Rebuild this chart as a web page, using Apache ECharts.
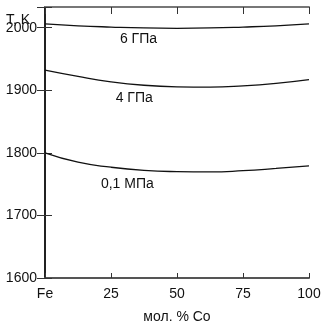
<!DOCTYPE html>
<html><head><meta charset="utf-8">
<script src="https://cdn.jsdelivr.net/npm/echarts@6/dist/echarts.min.js"></script>
<style>html,body{margin:0;padding:0;background:#fff}#c{width:324px;height:329px}</style>
</head><body><div id="c"></div>
<script>
const xTicks = [0, 25, 50, 75, 100];
const xTickLabels = ['Fe', '25', '50', '75', '100'];
const yTicks = [1600, 1700, 1800, 1900, 2000];
const curve6GPa = [[0,2006],[12.5,2003],[25,2001],[37.5,1999.5],[50,1999],[62.5,1999.5],[75,2001],[87.5,2003],[100,2006]];
const curve4GPa = [[0,1932],[12.5,1922],[25,1913.5],[37.5,1908],[50,1905.5],[62.5,1905],[75,1907],[87.5,1911],[100,1917]];
const curve01MPa = [[0,1800],[12.5,1785],[25,1777],[37.5,1772],[50,1770],[62.5,1769.5],[75,1771.5],[87.5,1775],[100,1779]];
const seriesNames = ['6 ГПа', '4 ГПа', '0,1 МПа'];
const labelPos = [[35.4,1981],[33.8,1887.5],[31.2,1750]];

const chart = echarts.init(document.getElementById('c'));
const font = 'Liberation Sans, Arial, sans-serif';
const axisCol = '#555';
const txt = '#111';
const common = {min:0,max:100,interval:25};
function mk(data, i){
  return {type:'line', data:data, smooth:0.5, symbol:'none',
    lineStyle:{color:'#111', width:1.3},
    markPoint:{symbol:'circle', symbolSize:0, data:[{coord:labelPos[i]}],
      label:{show:true, formatter:seriesNames[i], color:txt, fontSize:14, fontFamily:font}}};
}
chart.setOption({
  animation:false,
  grid:{left:45,right:15,top:7,bottom:44},
  xAxis:[
    Object.assign({type:'value', position:'bottom',
      axisLine:{lineStyle:{color:axisCol,width:2}},
      axisTick:{inside:true,length:5,lineStyle:{color:'#333'}},
      splitLine:{show:false},
      axisLabel:{margin:9,color:txt,fontSize:14,fontFamily:font,
        formatter:v=>{const k=xTicks.indexOf(v);return k>=0?xTickLabels[k]:'';}},
      name:'мол. % Co', nameLocation:'middle', nameGap:32,
      nameTextStyle:{color:txt,fontSize:14,fontFamily:font}}, common),
    Object.assign({type:'value', position:'top',
      axisLine:{lineStyle:{color:'#777',width:2}},
      axisTick:{inside:true,length:7,lineStyle:{color:'#333'}},
      splitLine:{show:false}, axisLabel:{show:false}}, common)
  ],
  yAxis:[
    {type:'value', position:'left', min:1600, max:2033, interval:100,
      axisLine:{show:true,lineStyle:{color:axisCol,width:2}},
      axisTick:{show:true,inside:true,length:7,lineStyle:{color:'#333'}},
      splitLine:{show:false},
      axisLabel:{margin:8,color:txt,fontSize:14,fontFamily:font,
        formatter:v=>yTicks.indexOf(v)>=0?String(v):''}},
    {type:'value', position:'right', min:1600, max:2033, interval:100,
      axisLine:{show:true,lineStyle:{color:'#111',width:1.5}},
      axisTick:{show:true,inside:true,length:8,lineStyle:{color:'#333'}},
      splitLine:{show:false}, axisLabel:{show:false}}
  ],
  graphic:[{type:'text', left:6, top:13, style:{text:'T, K', fill:txt, font:'14px '+font}}],
  series:[mk(curve6GPa,0), mk(curve4GPa,1), mk(curve01MPa,2)]
});
</script></body></html>
